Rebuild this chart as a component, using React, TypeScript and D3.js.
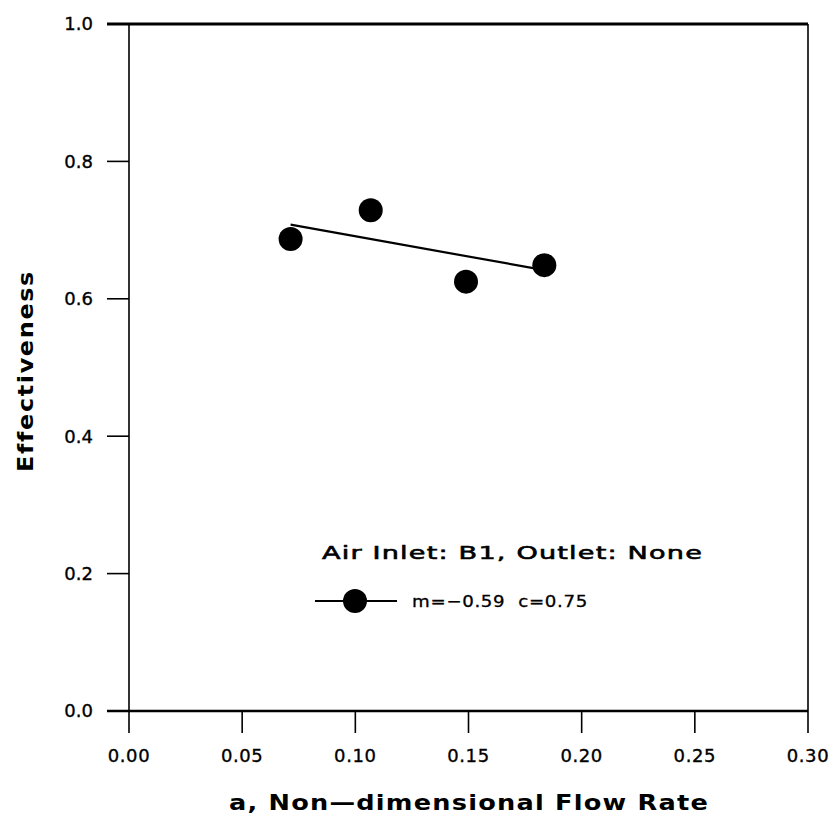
import React from "react";
import * as d3 from "d3";

const flowRate = [0.0714, 0.1068, 0.1489, 0.1835];
const effectiveness = [0.687, 0.729, 0.625, 0.649];
const fitSlope = -0.59;
const fitIntercept = 0.75;
const xTicks = [0, 0.05, 0.1, 0.15, 0.2, 0.25, 0.3];
const yTicks = [0, 0.2, 0.4, 0.6, 0.8, 1.0];
const legendTitle = "Air Inlet: B1, Outlet: None";
const legendLabel = "m=\u22120.59  c=0.75";
const xTitle = "a, Non\u2014dimensional Flow Rate";
const yTitle = "Effectiveness";

const W = 834;
const H = 821;
const font = "'DejaVu Sans', Verdana, sans-serif";

export default function App() {
  const x = d3.scaleLinear().domain([0, 0.3]).range([129, 808]);
  const y = d3.scaleLinear().domain([0, 1]).range([711, 24]);
  const xmin = d3.min(flowRate) as number;
  const xmax = d3.max(flowRate) as number;
  const fit = d3
    .line<number>()
    .x((d) => x(d))
    .y((d) => y(fitSlope * d + fitIntercept));
  return (
    <svg width={W} height={H} style={{ position: "absolute", left: 0, top: 0 }}>
      <rect width={W} height={H} fill="#fff" />
      {/* frame */}
      <line x1={x(0)} x2={x(0)} y1={y(0)} y2={y(1)} stroke="#000" strokeWidth={1.6} />
      <line x1={x(0.3)} x2={x(0.3)} y1={y(0)} y2={y(1)} stroke="#000" strokeWidth={1.6} />
      <line x1={x(0) - 22} x2={x(0.3)} y1={y(1)} y2={y(1)} stroke="#000" strokeWidth={3} />
      <line x1={x(0) - 22} x2={x(0.3)} y1={y(0)} y2={y(0)} stroke="#000" strokeWidth={2.4} />
      {yTicks.map((t) => (
        <g key={"y" + t}>
          <line x1={x(0) - 22} x2={x(0)} y1={y(t)} y2={y(t)} stroke="#000" strokeWidth={1.6} />
          <text
            x={93}
            y={y(t)}
            dy="0.36em"
            textAnchor="end"
            fontFamily={font}
            fontSize={18}
            stroke="#000"
            strokeWidth={0.35}
            fill="#000"
          >
            {t.toFixed(1)}
          </text>
        </g>
      ))}
      {xTicks.map((t) => (
        <g key={"x" + t}>
          <line x1={x(t)} x2={x(t)} y1={y(0)} y2={y(0) + 22} stroke="#000" strokeWidth={1.6} />
          <text
            x={x(t)}
            y={762}
            textAnchor="middle"
            fontFamily={font}
            fontSize={18}
            letterSpacing={0.6}
            stroke="#000"
            strokeWidth={0.35}
            fill="#000"
          >
            {t.toFixed(2)}
          </text>
        </g>
      ))}
      <text
        x={469}
        y={810}
        textAnchor="middle"
        fontFamily={font}
        fontSize={21}
        fontWeight="bold"
        letterSpacing={1}
        textLength={480}
        lengthAdjust="spacingAndGlyphs"
        fill="#000"
      >
        {xTitle}
      </text>
      <text
        transform={`translate(33,371) rotate(-90)`}
        textAnchor="middle"
        fontFamily={font}
        fontSize={22}
        fontWeight="bold"
        letterSpacing={1.5}
        textLength={202}
        lengthAdjust="spacingAndGlyphs"
        fill="#000"
      >
        {yTitle}
      </text>
      {/* fit line */}
      <path d={fit([xmin, xmax]) as string} fill="none" stroke="#000" strokeWidth={2.2} />
      {flowRate.map((v, i) => (
        <circle key={i} cx={x(v)} cy={y(effectiveness[i])} r={12} fill="#000" />
      ))}
      {/* legend */}
      <text
        x={322}
        y={559}
        fontFamily={font}
        fontSize={18}
        letterSpacing={0.8}
        textLength={381}
        lengthAdjust="spacingAndGlyphs"
        stroke="#000"
        strokeWidth={0.6}
        style={{ whiteSpace: "pre" }}
        fill="#000"
      >
        {legendTitle}
      </text>
      <line x1={315} x2={397} y1={601} y2={601} stroke="#000" strokeWidth={2} />
      <circle cx={355} cy={601} r={12} fill="#000" />
      <text
        x={412}
        y={607}
        fontFamily={font}
        fontSize={16}
        letterSpacing={0.6}
        textLength={176}
        lengthAdjust="spacingAndGlyphs"
        stroke="#000"
        strokeWidth={0.3}
        style={{ whiteSpace: "pre" }}
        fill="#000"
      >
        {legendLabel}
      </text>
    </svg>
  );
}
